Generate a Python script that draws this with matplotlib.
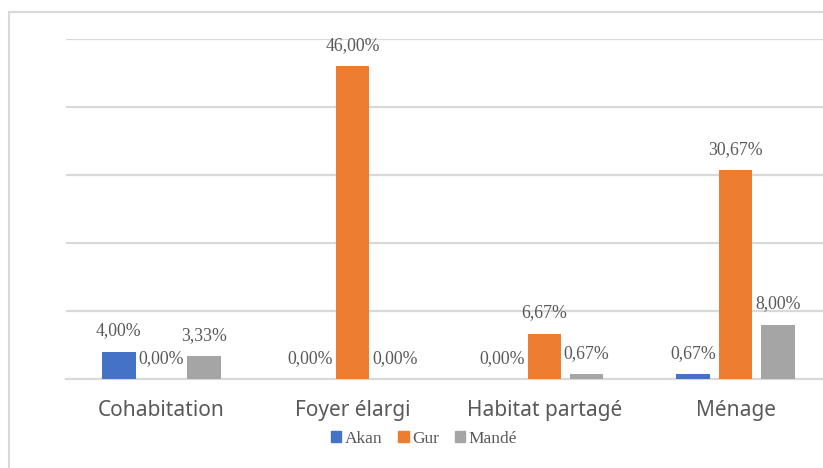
import matplotlib.pyplot as plt
from matplotlib.patches import Rectangle
import numpy as np

# Données (%)
categories = ['Cohabitation', 'Foyer élargi', 'Habitat partagé', 'Ménage']
groupes = ['Akan', 'Gur', 'Mandé']
akan = [4.00, 0.00, 0.00, 0.67]
gur = [0.00, 46.00, 6.67, 30.67]
mande = [3.33, 0.00, 0.67, 8.00]
couleurs = ['#4472C4', '#ED7D31', '#A5A5A5']

W, H = 823, 468
fig = plt.figure(figsize=(W / 100, H / 100), dpi=100)

# Zone de tracé (déborde volontairement à droite)
ax = fig.add_axes([65.7 / W, (H - 379) / H, 765.6 / W, 340 / H])

x = np.arange(len(categories))
largeur = 0.174
decalage = 0.222
police_valeurs = 'Liberation Serif'

for i, (serie, couleur) in enumerate(zip([akan, gur, mande], couleurs)):
    pos = x + (i - 1) * decalage
    ax.bar(pos, serie, width=largeur, color=couleur, zorder=3)
    for px, v in zip(pos, serie):
        ax.annotate(f'{v:.2f}'.replace('.', ',') + '%', (px, v),
                    xytext=(0, 15), textcoords='offset points',
                    ha='center', va='center', fontsize=12.8,
                    family=police_valeurs, color='#595959')

ax.set_xlim(-0.5, 3.5)
ax.set_ylim(0, 50)
ax.set_yticks(np.arange(0, 51, 10))
ax.yaxis.grid(True, color='#D9D9D9', linewidth=1.6, zorder=0)
ax.tick_params(axis='y', length=0, labelleft=False)
ax.tick_params(axis='x', length=0, pad=15)
ax.set_xticks(x)
ax.set_xticklabels(categories, fontsize=15, family='Noto Sans', color='#595959')
for cote in ['top', 'right', 'left']:
    ax.spines[cote].set_visible(False)
ax.spines['bottom'].set_color('#D9D9D9')
ax.spines['bottom'].set_linewidth(1.6)

# Légende
poignees = [Rectangle((0, 0), 1, 1, color=c) for c in couleurs]
fig.legend(poignees, groupes, loc='center', bbox_to_anchor=(424 / W, (H - 439) / H),
           ncol=3, frameon=False, handlelength=0.6, handleheight=0.6,
           handletextpad=0.2, columnspacing=0.9,
           prop={'family': police_valeurs, 'size': 12.5}, labelcolor='#595959')

# Cadre du graphique
fig.patches.append(Rectangle((8.5 / W, -0.1), 2, (H - 12) / H + 0.1,
                             transform=fig.transFigure, fill=False,
                             edgecolor='#D9D9D9', linewidth=1.5))

fig.savefig('out.png', dpi=100)
